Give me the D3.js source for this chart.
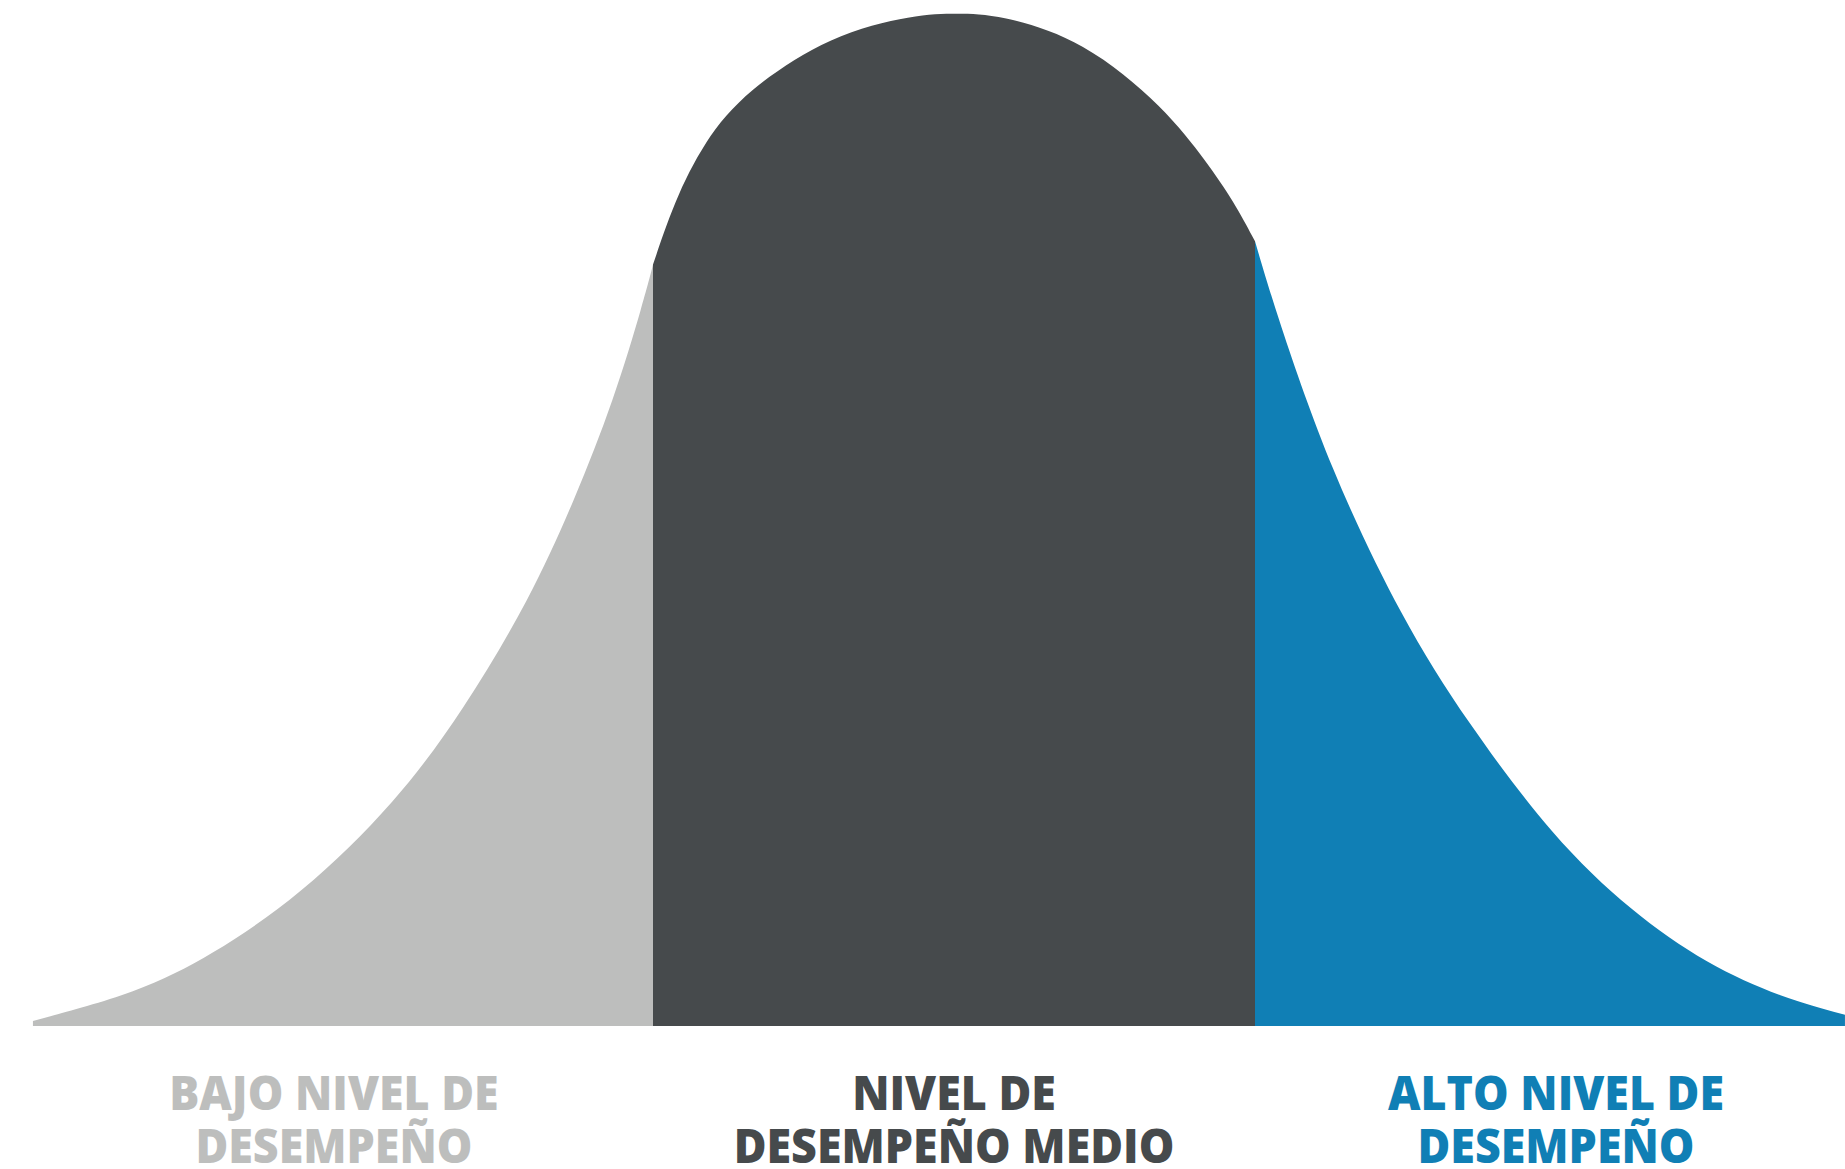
<!DOCTYPE html>
<html>
<head>
<meta charset="utf-8">
<script src="https://cdn.jsdelivr.net/npm/d3@7"></script>
<style>
  body { margin: 0; background: #fff; }
  svg { display: block; }
</style>
</head>
<body>
<script>
const svgWidth = 1845
const svgHeight = 1169

// bell curve: x in standard deviations, y in % of the peak
const curveX = [-3.06, -2.71, -2.47, -2.17, -1.85, -1.63, -1.41, -1.26, -1.13, -1.03, -1.0,
  -0.93, -0.83, -0.69, -0.41, -0.13, 0.01, 0.15, 0.43, 0.70, 0.84, 0.93, 1.0,
  1.07, 1.25, 1.49, 1.70, 1.99, 2.25, 2.50, 2.75, 2.96]
const curveY = [0.5, 3.3, 6.9, 12.9, 22.2, 31.2, 42.1, 52.0, 61.8, 71.7, 75.2,
  81.4, 87.4, 92.4, 97.9, 99.9, 100, 99.9, 97.4, 90.7, 85.3, 81.4, 77.5,
  70.4, 54.9, 40.1, 30.2, 18.6, 11.3, 6.1, 2.8, 1.1]

const categories = ["bajo", "medio", "alto"]
const bandEdges = [-1, 1]
const labelCenters = [-2.06, 0, 2]
const labelLines = [
  ["BAJO NIVEL DE", "DESEMPEÑO"],
  ["NIVEL DE", "DESEMPEÑO MEDIO"],
  ["ALTO NIVEL DE", "DESEMPEÑO"]
]
const colors = ["#bdbebd", "#464a4c", "#107fb5"]

const points = curveX.map((v, i) => ({ x: v, y: curveY[i] }))

const x = d3.scaleLinear()
  .domain(bandEdges)
  .range([653, 1255])

const y = d3.scaleLinear()
  .domain([0, 100])
  .range([1026, 13.5])

const svg = d3.select("body").append("svg")
  .attr("width", svgWidth)
  .attr("height", svgHeight)

// basis spline keeps the outline smooth despite small reading errors
const area = d3.area()
  .x(d => x(d.x))
  .y0(y(0))
  .y1(d => y(d.y))
  .curve(d3.curveBasis)

const segments = [
  points.filter(d => d.x <= bandEdges[0]),
  points.filter(d => d.x >= bandEdges[0] && d.x <= bandEdges[1]),
  points.filter(d => d.x >= bandEdges[1])
]

svg.selectAll("path.band")
  .data(segments)
  .enter()
  .append("path")
  .attr("class", "band")
  .attr("d", area)
  .attr("fill", (d, i) => colors[i])

const labels = svg.selectAll("text.label")
  .data(categories)
  .enter()
  .append("text")
  .attr("class", "label")
  .attr("text-anchor", "middle")
  .attr("font-family", "'Open Sans', sans-serif")
  .attr("font-weight", 800)
  .attr("font-size", 48)
  .attr("fill", (d, i) => colors[i])

// the reference lettering is a bit narrower than Open Sans
const squeeze = 0.933

labels.each(function(d, i) {
  const t = d3.select(this)
  labelLines[i].forEach((line, j) => {
    const span = t.append("tspan")
      .attr("x", x(labelCenters[i]))
      .attr("y", 1110 + j * 53)
      .text(line)
    const w = span.node().getComputedTextLength()
    span.attr("textLength", w * squeeze)
      .attr("lengthAdjust", "spacingAndGlyphs")
  })
})
</script>
</body>
</html>
